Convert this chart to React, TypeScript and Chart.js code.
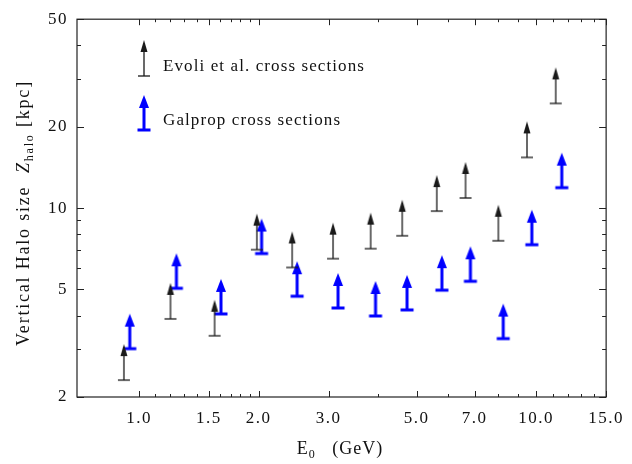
import React, { useEffect, useRef } from 'react';
import { Chart, registerables } from 'chart.js';

Chart.register(...registerables);

// ---- data ----
const evoliEnergy = [0.916, 1.2, 1.55, 1.98, 2.43, 3.08, 3.83, 4.6, 5.62, 6.64, 8.03, 9.48, 11.2];
const evoliZhalo = [2.31, 3.89, 3.37, 7.02, 6.03, 6.5, 7.08, 7.9, 9.75, 10.9, 7.57, 15.4, 24.4];
const galpropEnergy = [0.948, 1.242, 1.608, 2.035, 2.5, 3.17, 3.94, 4.73, 5.79, 6.83, 8.26, 9.75, 11.6];
const galpropZhalo = [3.02, 5.05, 4.06, 6.79, 4.72, 4.27, 3.99, 4.2, 4.97, 5.36, 3.29, 7.32, 11.9];

const seriesLabels = ['Evoli et al. cross sections', 'Galprop cross sections'];

const xMajorTicks = [1, 1.5, 2, 3, 5, 7, 10, 15];
const xMinorTicks = [1.1, 1.2, 1.3, 1.4, 1.6, 1.7, 1.8, 1.9, 4, 6, 8, 9, 11, 12, 13, 14];
const yMajorTicks = [2, 5, 10, 20, 50];
const yMinorTicks = [3, 4, 6, 7, 8, 9, 30, 40];

const FONT = '"Liberation Serif", "Times New Roman", serif';

function makeArrow(color: string, lineW: number, barW: number, headW: number, headH: number, total: number) {
  const w = 18;
  const h = (total + 3) * 2;
  const c = document.createElement('canvas');
  c.width = w;
  c.height = h;
  const ctx = c.getContext('2d')!;
  const cx = w / 2;
  const cy = h / 2;
  ctx.fillStyle = color;
  ctx.fillRect(cx - barW / 2, cy - lineW / 2, barW, lineW);
  ctx.fillRect(cx - lineW / 2, cy - total + headH - 1, lineW, total - headH + 1);
  ctx.beginPath();
  ctx.moveTo(cx, cy - total);
  ctx.lineTo(cx - headW / 2, cy - total + headH);
  ctx.lineTo(cx + headW / 2, cy - total + headH);
  ctx.closePath();
  ctx.fill();
  return c;
}

export default function App() {
  const ref = useRef<HTMLCanvasElement | null>(null);

  useEffect(() => {
    if (!ref.current) return;
    const blackArrow = makeArrow('#1a1a1a', 1.3, 12, 7, 12, 36);
    const blueArrow = makeArrow('#0000ff', 3, 13, 10, 13, 35);

    const spacingPlugin = {
      id: 'spacing',
      beforeDraw(chart: any) {
        (chart.ctx as any).letterSpacing = '1.5px';
      },
    };

    const framePlugin = {
      id: 'frame',
      afterDraw(chart: any) {
        const ctx = chart.ctx as CanvasRenderingContext2D;
        const { left, right, top, bottom } = chart.chartArea;
        const xs = chart.scales.x;
        const ys = chart.scales.y;
        ctx.save();
        ctx.strokeStyle = '#222';
        ctx.lineWidth = 1.2;
        ctx.strokeRect(left, top, right - left, bottom - top);
        ctx.lineWidth = 1;
        ctx.beginPath();
        for (const v of xMajorTicks.concat(xMinorTicks)) {
          const len = xMajorTicks.includes(v) ? 6 : 3;
          const px = Math.round(xs.getPixelForValue(v)) + 0.5;
          ctx.moveTo(px, bottom);
          ctx.lineTo(px, bottom - len);
          ctx.moveTo(px, top);
          ctx.lineTo(px, top + len);
        }
        for (const v of yMajorTicks.concat(yMinorTicks)) {
          const len = yMajorTicks.includes(v) ? 7 : 4;
          const py = Math.round(ys.getPixelForValue(v)) + 0.5;
          ctx.moveTo(left, py);
          ctx.lineTo(left + len, py);
          ctx.moveTo(right, py);
          ctx.lineTo(right - len, py);
        }
        ctx.stroke();

        // legend
        ctx.fillStyle = '#111';
        (ctx as any).letterSpacing = '1.1px';
        ctx.font = `17px ${FONT}`;
        ctx.textAlign = 'left';
        ctx.textBaseline = 'alphabetic';
        ctx.drawImage(blackArrow, 144 - blackArrow.width / 2, 76 - blackArrow.height / 2);
        ctx.fillText(seriesLabels[0], 163, 71);
        ctx.drawImage(blueArrow, 144 - blueArrow.width / 2, 130 - blueArrow.height / 2);
        ctx.fillText(seriesLabels[1], 163, 124.5);

        // x title
        (ctx as any).letterSpacing = '1px';
        const parts: [string, string, number][] = [
          ['E', `18px ${FONT}`, 0],
          ['0', `12px ${FONT}`, 4],
          ['   (GeV)', `18px ${FONT}`, 0],
        ];
        let tw = 0;
        for (const [t, f] of parts) { ctx.font = f; tw += ctx.measureText(t).width; }
        let x0 = 340 - tw / 2;
        for (const [t, f, dy] of parts) {
          ctx.font = f;
          ctx.fillText(t, x0, 454 + dy);
          x0 += ctx.measureText(t).width;
        }

        // y title
        ctx.translate(29, 213);
        ctx.rotate(-Math.PI / 2);
        (ctx as any).letterSpacing = '1.8px';
        const yparts: [string, string, number][] = [
          ['Vertical Halo size  ', `18px ${FONT}`, 0],
          ['Z', `italic 18px ${FONT}`, 0],
          ['halo', `12px ${FONT}`, 4],
          [' [kpc]', `18px ${FONT}`, 0],
        ];
        let yw = 0;
        for (const [t, f] of yparts) { ctx.font = f; yw += ctx.measureText(t).width; }
        let y0 = -yw / 2;
        for (const [t, f, dy] of yparts) {
          ctx.font = f;
          ctx.fillText(t, y0, dy);
          y0 += ctx.measureText(t).width;
        }
        ctx.restore();
      },
    };

    const chart = new Chart(ref.current, {
      type: 'scatter',
      data: {
        datasets: [
          {
            label: seriesLabels[0],
            data: evoliEnergy.map((e, i) => ({ x: e, y: evoliZhalo[i] })),
            pointStyle: blackArrow as any,
            pointRadius: 10,
            borderColor: '#111',
            backgroundColor: '#111',
          },
          {
            label: seriesLabels[1],
            data: galpropEnergy.map((e, i) => ({ x: e, y: galpropZhalo[i] })),
            pointStyle: blueArrow as any,
            pointRadius: 10,
            borderColor: '#0000ff',
            backgroundColor: '#0000ff',
          },
        ],
      },
      options: {
        responsive: false,
        animation: false,
        events: [],
        layout: { padding: { left: 0, top: 15, right: 21, bottom: 0 } },
        plugins: {
          legend: { display: false },
          tooltip: { enabled: false },
        },
        scales: {
          x: {
            type: 'logarithmic',
            min: 0.698,
            max: 15,
            grid: { display: false, drawTicks: false },
            border: { display: false },
            afterFit: (s: any) => { s.height = 67; },
            afterBuildTicks: (s: any) => {
              s.ticks = xMajorTicks.concat(xMinorTicks).sort((a, b) => a - b).map((v) => ({ value: v }));
            },
            ticks: {
              autoSkip: false,
              maxRotation: 0,
              padding: 11,
              color: '#111',
              font: { family: FONT, size: 17 },
              callback: (v: any) => (xMajorTicks.includes(Number(v)) ? Number(v).toFixed(1) : ''),
            },
          },
          y: {
            type: 'logarithmic',
            min: 2,
            max: 50,
            grid: { display: false, drawTicks: false },
            border: { display: false },
            afterFit: (s: any) => { s.width = 77; },
            afterBuildTicks: (s: any) => {
              s.ticks = yMajorTicks.concat(yMinorTicks).sort((a, b) => a - b).map((v) => ({ value: v }));
            },
            ticks: {
              autoSkip: false,
              padding: 9,
              color: '#111',
              font: { family: FONT, size: 17 },
              callback: (v: any) => (yMajorTicks.includes(Number(v)) ? String(v) : ''),
            },
          },
        },
      },
      plugins: [spacingPlugin, framePlugin],
    });
    return () => chart.destroy();
  }, []);

  return (
    <div style={{ position: 'fixed', left: 0, top: 0, width: 632, height: 464, background: '#fff' }}>
      <canvas ref={ref} width={632} height={464} style={{ display: 'block' }} />
    </div>
  );
}
